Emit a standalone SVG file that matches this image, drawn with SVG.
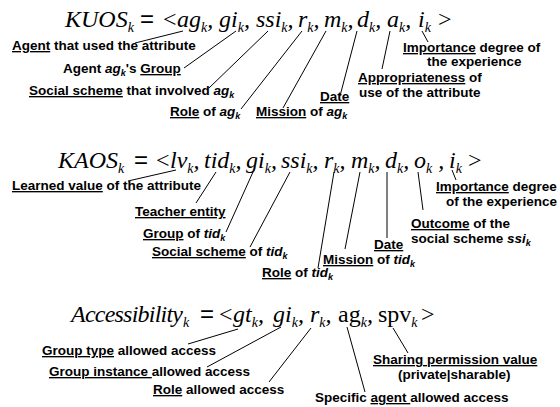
<svg xmlns="http://www.w3.org/2000/svg" width="560" height="407" viewBox="0 0 560 407">
<style>
.f{font-family:"Liberation Serif","Times New Roman",serif;font-style:italic;font-size:24px;fill:#000}
.up{font-style:normal}
.eq{font-family:"Liberation Sans",Arial,sans-serif;font-style:normal}
.sb{font-size:14px}
.l{font-family:"Liberation Sans",Arial,sans-serif;font-weight:bold;font-size:13.5px;fill:#000}
.li{font-style:italic}
.ls{font-style:italic;font-size:9px}
.u{text-decoration:underline;text-decoration-color:#5a5a5a;text-decoration-thickness:2px;text-underline-offset:2px}
.c line{stroke:#000;stroke-width:1}
</style>
<rect width="560" height="407" fill="#fff"/>
<g id="formula-kuos"><text class="f" y="27"><tspan x="65">KUOS</tspan><tspan class="sb" y="32">k</tspan><tspan class="eq" x="140" y="27">=</tspan><tspan class="up" x="163">&lt;</tspan><tspan x="177">ag</tspan><tspan class="sb" y="32">k</tspan><tspan y="27">,</tspan><tspan x="219">gi</tspan><tspan class="sb" y="32">k</tspan><tspan y="27">,</tspan><tspan x="256">ssi</tspan><tspan class="sb" y="32">k</tspan><tspan y="27">,</tspan><tspan x="298">r</tspan><tspan class="sb" y="32">k</tspan><tspan y="27">,</tspan><tspan x="324">m</tspan><tspan class="sb" y="32">k</tspan><tspan y="27">,</tspan><tspan x="357">d</tspan><tspan class="sb" y="32">k</tspan><tspan y="27">,</tspan><tspan x="387">a</tspan><tspan class="sb" y="32">k</tspan><tspan y="27">,</tspan><tspan x="418">i</tspan><tspan class="sb" y="32">k</tspan><tspan class="up" x="438" y="27">&gt;</tspan></text></g>
<g id="label-agent"><text class="l" x="12" y="50"><tspan class="u">Agent</tspan> that used the attribute</text></g>
<g id="label-group"><text class="l" x="63" y="73">Agent <tspan class="li">ag</tspan><tspan class="ls" dy="3">k</tspan><tspan dy="-3">'s </tspan><tspan class="u">Group</tspan></text></g>
<g id="label-social"><text class="l" x="29" y="95"><tspan class="u">Social scheme</tspan> that involved <tspan class="li">ag</tspan><tspan class="ls" dy="3">k</tspan></text></g>
<g id="label-role"><text class="l" x="170" y="116"><tspan class="u">Role</tspan> of <tspan class="li">ag</tspan><tspan class="ls" dy="3">k</tspan></text></g>
<g id="label-mission"><text class="l" x="256" y="116"><tspan class="u">Mission</tspan> of <tspan class="li">ag</tspan><tspan class="ls" dy="3">k</tspan></text></g>
<g id="label-date"><text class="l" x="320" y="101"><tspan class="u">Date</tspan></text></g>
<g id="label-appropriateness"><text class="l" x="358" y="82"><tspan class="u">Appropriateness</tspan> of</text><text class="l" x="359" y="97">use of the attribute</text></g>
<g id="label-importance"><text class="l" x="403" y="52"><tspan class="u">Importance</tspan> degree of</text><text class="l" x="427" y="66">the experience</text></g>

<g id="formula-kaos"><text class="f" y="168"><tspan x="58">KAOS</tspan><tspan class="sb" y="173">k</tspan><tspan class="eq" x="134" y="168">=</tspan><tspan class="up" x="156">&lt;</tspan><tspan x="170">lv</tspan><tspan class="sb" y="173">k</tspan><tspan y="168">,</tspan><tspan x="204">tid</tspan><tspan class="sb" y="173">k</tspan><tspan y="168">,</tspan><tspan x="246">gi</tspan><tspan class="sb" y="173">k</tspan><tspan y="168">,</tspan><tspan x="281">ssi</tspan><tspan class="sb" y="173">k</tspan><tspan y="168">,</tspan><tspan x="324">r</tspan><tspan class="sb" y="173">k</tspan><tspan y="168">,</tspan><tspan x="351">m</tspan><tspan class="sb" y="173">k</tspan><tspan y="168">,</tspan><tspan x="385">d</tspan><tspan class="sb" y="173">k</tspan><tspan y="168">,</tspan><tspan x="414">o</tspan><tspan class="sb" y="173">k</tspan><tspan y="168"> ,</tspan><tspan x="449">i</tspan><tspan class="sb" y="173">k</tspan><tspan class="up" x="468" y="168">&gt;</tspan></text></g>
<g id="label-learned"><text class="l" x="12" y="190"><tspan class="u">Learned value</tspan> of the attribute</text></g>
<g id="label-teacher"><text class="l" x="135" y="216"><tspan class="u">Teacher entity</tspan></text></g>
<g id="label-group2"><text class="l" x="143" y="238"><tspan class="u">Group</tspan> of <tspan class="li">tid</tspan><tspan class="ls" dy="3">k</tspan></text></g>
<g id="label-social2"><text class="l" x="152" y="256"><tspan class="u">Social scheme</tspan> of <tspan class="li">tid</tspan><tspan class="ls" dy="3">k</tspan></text></g>
<g id="label-role2"><text class="l" x="262" y="277"><tspan class="u">Role</tspan> of <tspan class="li">tid</tspan><tspan class="ls" dy="3">k</tspan></text></g>
<g id="label-mission2"><text class="l" x="323" y="264"><tspan class="u">Mission</tspan> of <tspan class="li">tid</tspan><tspan class="ls" dy="3">k</tspan></text></g>
<g id="label-date2"><text class="l" x="374" y="249"><tspan class="u">Date</tspan></text></g>
<g id="label-outcome"><text class="l" x="411" y="228"><tspan class="u">Outcome</tspan> of the</text><text class="l" x="411" y="243">social scheme <tspan class="li">ssi</tspan><tspan class="ls" dy="3">k</tspan></text></g>
<g id="label-importance2"><text class="l" x="436" y="191"><tspan class="u">Importance</tspan> degree</text><text class="l" x="446" y="206">of the experience</text></g>

<g id="formula-access"><text class="f" x="71" y="322" textLength="112" lengthAdjust="spacing">Accessibility</text><text class="f" y="322"><tspan class="sb" x="183" y="327">k</tspan><tspan class="eq" x="200" y="322">=</tspan><tspan class="up" x="219">&lt;</tspan><tspan x="233">gt</tspan><tspan class="sb" y="327">k</tspan><tspan y="322">,</tspan><tspan x="273">gi</tspan><tspan class="sb" y="327">k</tspan><tspan y="322">,</tspan><tspan x="310">r</tspan><tspan class="sb" y="327">k</tspan><tspan y="322">,</tspan><tspan class="up" x="338">ag</tspan><tspan class="sb" y="327">k</tspan><tspan y="322">,</tspan><tspan class="up" x="378">spv</tspan><tspan class="sb" y="327">k</tspan><tspan class="up" x="421" y="322">&gt;</tspan></text></g>
<g id="label-gtype"><text class="l" x="42" y="355"><tspan class="u">Group type</tspan> allowed access</text></g>
<g id="label-ginst"><text class="l" x="49" y="376"><tspan class="u">Group instance </tspan>allowed access</text></g>
<g id="label-role3"><text class="l" x="153" y="394"><tspan class="u">Role</tspan> allowed access</text></g>
<g id="label-agent3"><text class="l" x="315" y="402">Specific <tspan class="u">agent </tspan>allowed access</text></g>
<g id="label-sharing"><text class="l" x="373" y="364"><tspan class="u">Sharing permission value</tspan></text><text class="l" x="398" y="379">(private|sharable)</text></g>

<g id="connectors" class="c">
<line x1="135" y1="43" x2="183" y2="31"/>
<line x1="184" y1="68" x2="236" y2="31"/>
<line x1="209" y1="88" x2="268" y2="31"/>
<line x1="241" y1="109" x2="302" y2="31"/>
<line x1="283" y1="108" x2="326" y2="31"/>
<line x1="340" y1="96" x2="357" y2="31"/>
<line x1="382" y1="69" x2="390" y2="31"/>
<line x1="422" y1="31" x2="428" y2="42"/>
<line x1="128" y1="181" x2="176" y2="170"/>
<line x1="196" y1="203" x2="216" y2="172"/>
<line x1="226" y1="232" x2="253" y2="172"/>
<line x1="250" y1="247" x2="290" y2="172"/>
<line x1="318" y1="268" x2="334" y2="172"/>
<line x1="345" y1="249" x2="360" y2="172"/>
<line x1="387" y1="238" x2="387" y2="172"/>
<line x1="418" y1="172" x2="423" y2="210"/>
<line x1="452" y1="170" x2="456" y2="180"/>
<line x1="188" y1="344" x2="238" y2="329"/>
<line x1="207" y1="367" x2="281" y2="327"/>
<line x1="269" y1="382" x2="311" y2="328"/>
<line x1="347" y1="327" x2="365" y2="392"/>
<line x1="393" y1="328" x2="408" y2="353"/>
</g>
</svg>
